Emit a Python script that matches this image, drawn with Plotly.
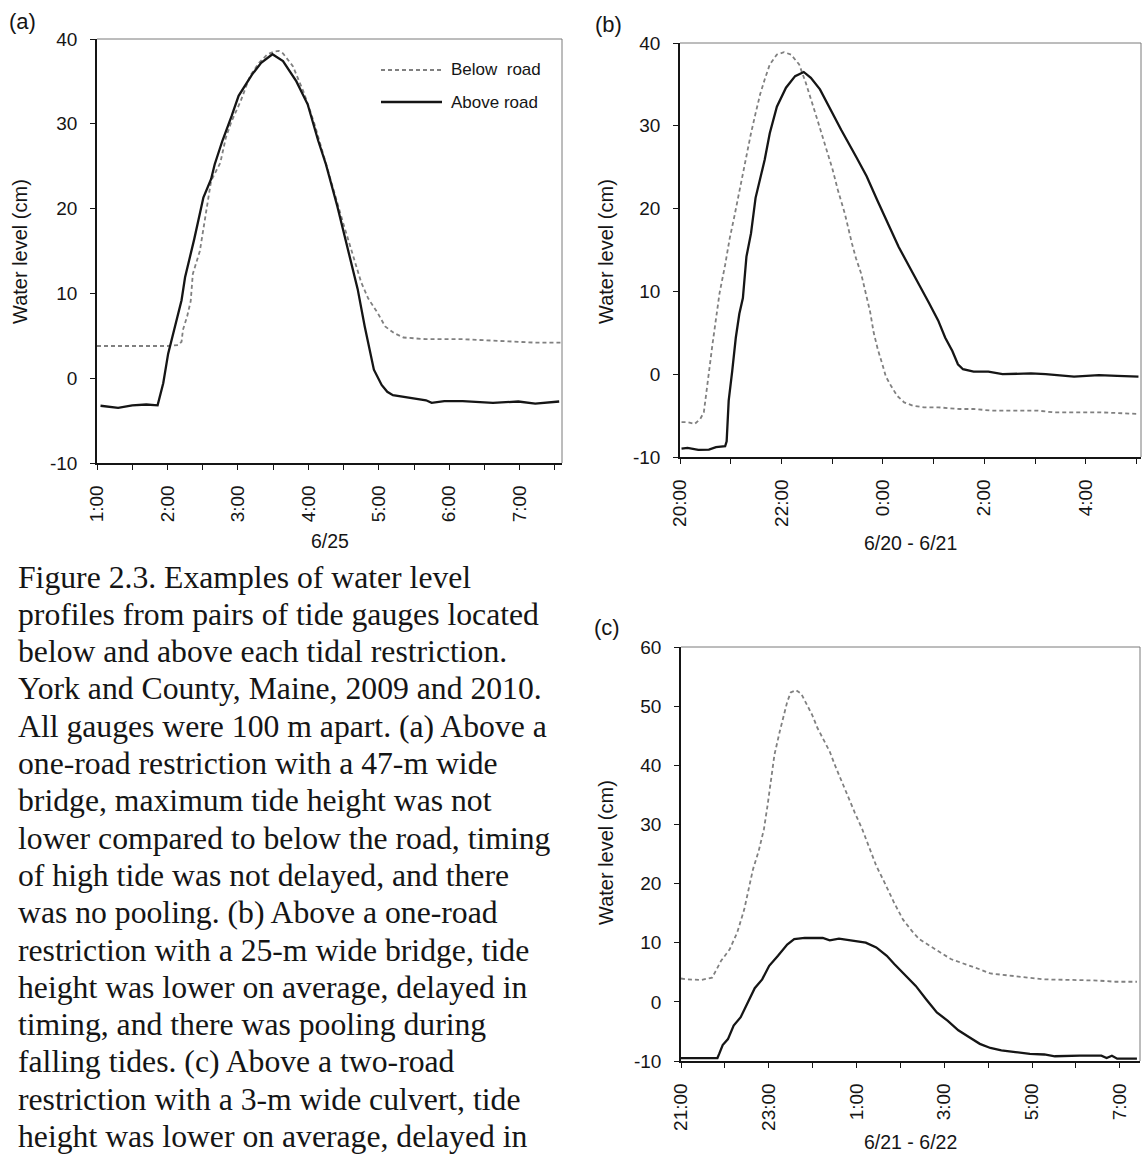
import plotly.graph_objects as go

# ---------------- data: water level (cm) against clock hour ----------------
# (a) 6/25
A_BELOW_T = [1.00, 1.50, 2.00, 2.15, 2.20, 2.22, 2.28, 2.33, 2.36, 2.46, 2.50, 2.57, 2.62,
             2.75, 2.83, 2.91, 3.04, 3.17, 3.30, 3.42, 3.51, 3.58, 3.64, 3.78, 3.85, 3.93,
             4.01, 4.09, 4.17, 4.25, 4.33, 4.41, 4.49, 4.59, 4.67, 4.75, 4.85, 4.99, 5.09,
             5.22, 5.35, 5.67, 6.19, 6.46, 6.88, 7.20, 7.58]
A_BELOW_CM = [3.8, 3.8, 3.8, 3.9, 4.3, 5.7, 7.3, 9.1, 12.3, 15.0, 17.0, 20.9, 23.3,
              25.4, 28.4, 30.3, 32.7, 35.6, 37.2, 38.2, 38.5, 38.6, 38.3, 36.8, 35.4, 33.8,
              31.9, 29.9, 27.6, 25.2, 23.1, 20.7, 18.4, 15.6, 13.3, 11.3, 9.4, 7.6, 6.1,
              5.3, 4.8, 4.6, 4.6, 4.5, 4.3, 4.2, 4.2]

A_ABOVE_T = [1.05, 1.30, 1.50, 1.70, 1.86, 1.89, 1.94, 2.01, 2.09, 2.20, 2.25, 2.38, 2.51,
             2.62, 2.67, 2.78, 2.91, 3.01, 3.20, 3.33, 3.49, 3.64, 3.83, 3.99, 4.14, 4.25,
             4.41, 4.56, 4.70, 4.80, 4.88, 4.93, 5.04, 5.12, 5.20, 5.41, 5.67, 5.75, 5.93,
             6.19, 6.62, 6.98, 7.22, 7.56]
A_ABOVE_CM = [-3.25, -3.5, -3.2, -3.1, -3.2, -2.2, -0.6, 2.9, 5.7, 9.2, 11.9, 16.4, 21.3,
              23.5, 25.2, 28.0, 30.9, 33.3, 35.8, 37.2, 38.2, 37.4, 35.0, 32.3, 28.0, 25.2,
              20.3, 15.4, 10.5, 6.1, 2.9, 1.0, -0.8, -1.6, -2.0, -2.3, -2.6, -2.9, -2.7,
              -2.7, -2.9, -2.75, -3.0, -2.75]

# (b) 6/20 - 6/21 (hours past midnight continue beyond 24)
B_BELOW_T = [20.03, 20.15, 20.29, 20.40, 20.47, 20.52, 20.57, 20.64, 20.73, 20.78, 20.89,
             20.98, 21.07, 21.15, 21.24, 21.31, 21.40, 21.49, 21.58, 21.67, 21.77, 21.91,
             22.05, 22.19, 22.35, 22.48, 22.58, 22.69, 22.79, 22.90, 23.01, 23.11, 23.25,
             23.39, 23.47, 23.57, 23.66, 23.75, 23.82, 23.90, 23.99, 24.06, 24.16, 24.28,
             24.42, 24.59, 24.81, 25.09, 25.51, 25.79, 26.15, 26.50, 27.06, 27.35, 27.77,
             28.26, 29.04]
B_BELOW_CM = [-5.8, -5.8, -6.0, -5.4, -4.6, -2.4, 0.2, 3.6, 7.3, 9.8, 13.2,
              16.4, 19.0, 21.5, 24.1, 26.3, 29.1, 31.5, 33.8, 35.6, 37.4, 38.6,
              38.9, 38.6, 37.4, 35.2, 33.1, 31.1, 29.1, 26.9, 24.7, 22.3, 19.4,
              15.8, 14.0, 12.2, 9.8, 7.5, 5.0, 3.0, 1.2, -0.3, -1.4, -2.6,
              -3.4, -3.8, -4.0, -4.0, -4.2, -4.2, -4.4, -4.4, -4.4, -4.6, -4.6,
              -4.6, -4.8]

B_ABOVE_T = [20.03, 20.15, 20.36, 20.57, 20.71, 20.89, 20.92, 20.96, 21.03, 21.10, 21.17,
             21.24, 21.31, 21.40, 21.49, 21.59, 21.67, 21.77, 21.91, 22.09, 22.27, 22.44,
             22.58, 22.76, 22.97, 23.18, 23.47, 23.68, 23.89, 24.10, 24.31, 24.52, 24.74,
             24.91, 25.09, 25.23, 25.37, 25.48, 25.58, 25.79, 26.08, 26.36, 26.92, 27.21,
             27.77, 28.26, 28.62, 29.04]
B_ABOVE_CM = [-9.0, -8.9, -9.15, -9.1, -8.8, -8.7, -8.1, -3.2, 0.4, 4.4, 7.3,
              9.2, 14.2, 17.0, 21.3, 23.7, 25.9, 29.1, 32.3, 34.6, 36.0, 36.5,
              35.8, 34.4, 31.9, 29.5, 26.3, 23.9, 21.0, 18.2, 15.4, 13.0, 10.6,
              8.6, 6.5, 4.4, 2.8, 1.2, 0.6, 0.3, 0.3, 0.0, 0.1, 0.0,
              -0.3, -0.1, -0.2, -0.3]

# (c) 6/21 - 6/22
C_BELOW_T = [21.00, 21.14, 21.46, 21.71, 21.79, 21.91, 22.11, 22.28, 22.44, 22.52, 22.64,
             22.77, 22.89, 22.97, 23.03, 23.13, 23.25, 23.34, 23.42, 23.50, 23.62, 23.74,
             23.86, 23.99, 24.11, 24.23, 24.39, 24.52, 24.64, 24.80, 24.96, 25.13, 25.29,
             25.45, 25.65, 25.86, 26.06, 26.26, 26.43, 26.67, 26.92, 27.16, 27.48, 27.81,
             28.05, 28.46, 28.87, 29.28, 29.93, 30.50, 30.90, 31.39]
C_BELOW_CM = [3.95, 3.8, 3.7, 4.1, 5.2, 6.9, 8.9, 11.7, 15.6, 18.5, 22.4,
              25.5, 29.2, 33.1, 36.7, 41.8, 45.7, 48.5, 50.7, 52.3, 52.7, 52.1,
              50.5, 48.5, 46.3, 44.6, 42.3, 39.8, 37.6, 34.8, 32.0, 29.2, 26.1,
              23.0, 20.0, 16.7, 13.9, 12.0, 10.6, 9.4, 8.3, 7.2, 6.4, 5.5,
              4.8, 4.5, 4.1, 3.8, 3.7, 3.6, 3.4, 3.4]

C_ABOVE_T = [21.00, 21.40, 21.83, 21.87, 21.95, 22.07, 22.20, 22.36, 22.52, 22.68, 22.85,
             23.01, 23.21, 23.42, 23.58, 23.82, 24.23, 24.39, 24.60, 24.96, 25.21, 25.45,
             25.69, 25.86, 26.10, 26.35, 26.59, 26.83, 27.08, 27.32, 27.57, 27.81, 28.05,
             28.30, 28.62, 28.95, 29.28, 29.52, 30.09, 30.58, 30.70, 30.82, 30.94, 31.39]
C_ABOVE_CM = [-9.5, -9.5, -9.5, -8.8, -7.3, -6.3, -4.0, -2.6, -0.1, 2.3, 3.8,
              6.1, 7.8, 9.7, 10.6, 10.8, 10.8, 10.4, 10.7, 10.3, 10.0, 9.2,
              7.8, 6.4, 4.5, 2.7, 0.4, -1.8, -3.2, -4.8, -6.0, -7.1, -7.8,
              -8.2, -8.5, -8.8, -8.9, -9.2, -9.1, -9.1, -9.5, -9.1, -9.6, -9.6]

# tick positions (hours) and their clock labels
A_TICK_HOURS = [1, 2, 3, 4, 5, 6, 7]
A_TICK_LABELS = ["1:00", "2:00", "3:00", "4:00", "5:00", "6:00", "7:00"]
B_TICK_HOURS = [20, 22, 24, 26, 28]
B_TICK_LABELS = ["20:00", "22:00", "0:00", "2:00", "4:00"]
C_TICK_HOURS = [21, 23, 25, 27, 29, 31]
C_TICK_LABELS = ["21:00", "23:00", "1:00", "3:00", "5:00", "7:00"]
AB_Y_TICKS = [-10, 0, 10, 20, 30, 40]
C_Y_TICKS = [-10, 0, 10, 20, 30, 40, 50, 60]

CAPTION = [
    "Figure 2.3. Examples of water level",
    "profiles from pairs of tide gauges located",
    "below and above each tidal restriction.",
    "York and County, Maine, 2009 and 2010.",
    "All gauges were 100 m apart. (a) Above a",
    "one-road restriction with a 47-m wide",
    "bridge, maximum tide height was not",
    "lower compared to below the road, timing",
    "of high tide was not delayed, and there",
    "was no pooling. (b) Above a one-road",
    "restriction with a 25-m wide bridge, tide",
    "height was lower on average, delayed in",
    "timing, and there was pooling during",
    "falling tides. (c) Above a two-road",
    "restriction with a 3-m wide culvert, tide",
    "height was lower on average, delayed in",
]

# ---------------- layout helpers ----------------
W, H = 1142, 1155
SANS = "Liberation Sans, Arial, sans-serif"
SERIF = "Liberation Serif, Times New Roman, serif"
INK = "#151515"
GREY = "#808080"


def px(x):
    return x / W


def py(y):
    return 1 - y / H


# plot boxes in pixels: left, right, top, bottom
BOX_A = (97, 562, 39, 463)
BOX_B = (680, 1141, 43, 457)
BOX_C = (681, 1140, 647, 1061)


def tick_marks(labelled_hours, labels, start, stop, step):
    vals, text = [], []
    h = start
    while h <= stop + 1e-9:
        vals.append(round(h, 3))
        text.append(labels[labelled_hours.index(h)] if h in labelled_hours else "")
        h += step
    return vals, text


def xaxis(box, rng, vals, text, anchor):
    return dict(domain=[px(box[0]), px(box[1])], range=rng, anchor=anchor,
                automargin=False,
                showline=True, linecolor=INK, linewidth=1.5, mirror=False,
                ticks="outside", ticklen=5, tickwidth=1.2, tickcolor=INK,
                tickmode="array", tickvals=vals, ticktext=text, tickangle=-90,
                tickfont=dict(family=SANS, size=19, color=INK),
                ticklabelstandoff=8,
                showgrid=False, zeroline=False, fixedrange=True)


def yaxis(box, rng, ticks, anchor):
    return dict(domain=[py(box[3]), py(box[2])], range=rng, anchor=anchor,
                automargin=False,
                showline=True, linecolor=INK, linewidth=1.5, mirror=False,
                ticks="outside", ticklen=5, tickwidth=1.2, tickcolor=INK,
                tickmode="array", tickvals=ticks, ticktext=[str(v) for v in ticks],
                tickfont=dict(family=SANS, size=19, color=INK),
                ticklabelstandoff=9,
                showgrid=False, zeroline=False, fixedrange=True)


below_style = dict(color=GREY, width=1.8, dash="4px,3px")
above_style = dict(color=INK, width=2.3)

fig = go.Figure()
series = [
    ("x", "y", A_BELOW_T, A_BELOW_CM, A_ABOVE_T, A_ABOVE_CM),
    ("x2", "y2", B_BELOW_T, B_BELOW_CM, B_ABOVE_T, B_ABOVE_CM),
    ("x3", "y3", C_BELOW_T, C_BELOW_CM, C_ABOVE_T, C_ABOVE_CM),
]
for xa, ya, bt, bv, at, av in series:
    fig.add_trace(go.Scatter(x=bt, y=bv, mode="lines", name="Below road",
                             line=below_style, xaxis=xa, yaxis=ya, showlegend=False))
    fig.add_trace(go.Scatter(x=at, y=av, mode="lines", name="Above road",
                             line=above_style, xaxis=xa, yaxis=ya, showlegend=False))

ax_vals, ax_text = tick_marks(A_TICK_HOURS, A_TICK_LABELS, 1, 7.5, 0.5)
bx_vals, bx_text = tick_marks(B_TICK_HOURS, B_TICK_LABELS, 20, 29, 1)
cx_vals, cx_text = tick_marks(C_TICK_HOURS, C_TICK_LABELS, 21, 31, 1)

shapes = []
for box in (BOX_A, BOX_B, BOX_C):
    l, r, t, b = box
    # lighter top and right edges of each frame
    shapes.append(dict(type="line", xref="paper", yref="paper", x0=px(l), x1=px(r),
                       y0=py(t), y1=py(t), line=dict(color="#7a7a7a", width=1)))
    shapes.append(dict(type="line", xref="paper", yref="paper", x0=px(r), x1=px(r),
                       y0=py(t), y1=py(b), line=dict(color="#7a7a7a", width=1)))

# legend samples for panel (a)
shapes.append(dict(type="line", xref="paper", yref="paper", x0=px(381), x1=px(442),
                   y0=py(70), y1=py(70), line=below_style))
shapes.append(dict(type="line", xref="paper", yref="paper", x0=px(381), x1=px(442),
                   y0=py(102), y1=py(102), line=above_style))

ann = []


def text(x, y, s, size, family=SANS, xanchor="center", angle=0):
    ann.append(dict(x=px(x), y=py(y), xref="paper", yref="paper", text=s,
                    showarrow=False, xanchor=xanchor, yanchor="middle", textangle=angle,
                    align="left" if xanchor == "left" else "center", borderpad=0,
                    font=dict(family=family, size=size, color=INK)))


text(450, 70, "Below  road", 17, xanchor="left")
text(450, 102, "Above road", 17, xanchor="left")

text(8, 21, "(a)", 22, xanchor="left")
text(594, 24, "(b)", 22, xanchor="left")
text(593, 627, "(c)", 22, xanchor="left")

text(20, 252, "Water level (cm)", 20, angle=-90)
text(606, 252, "Water level (cm)", 20, angle=-90)
text(606, 853, "Water level (cm)", 20, angle=-90)

text(330, 541, "6/25", 19.5)
text(910, 543, "6/20 - 6/21", 19.5)
text(910, 1142, "6/21 - 6/22", 19.5)

for i, line in enumerate(CAPTION):
    text(17, 577 + i * 37.3, line, 31.7, family=SERIF, xanchor="left")

fig.update_layout(
    width=W, height=H,
    margin=dict(l=0, r=0, t=0, b=0, autoexpand=False),
    paper_bgcolor="white", plot_bgcolor="white",
    xaxis=xaxis(BOX_A, [1, 7.6], ax_vals, ax_text, "y"),
    yaxis=yaxis(BOX_A, [-10, 40], AB_Y_TICKS, "x"),
    xaxis2=xaxis(BOX_B, [20, 29.09], bx_vals, bx_text, "y2"),
    yaxis2=yaxis(BOX_B, [-10, 40], AB_Y_TICKS, "x2"),
    xaxis3=xaxis(BOX_C, [21, 31.46], cx_vals, cx_text, "y3"),
    yaxis3=yaxis(BOX_C, [-10, 60], C_Y_TICKS, "x3"),
    shapes=shapes,
    annotations=ann,
    showlegend=False,
)

fig.write_html("out.html")
